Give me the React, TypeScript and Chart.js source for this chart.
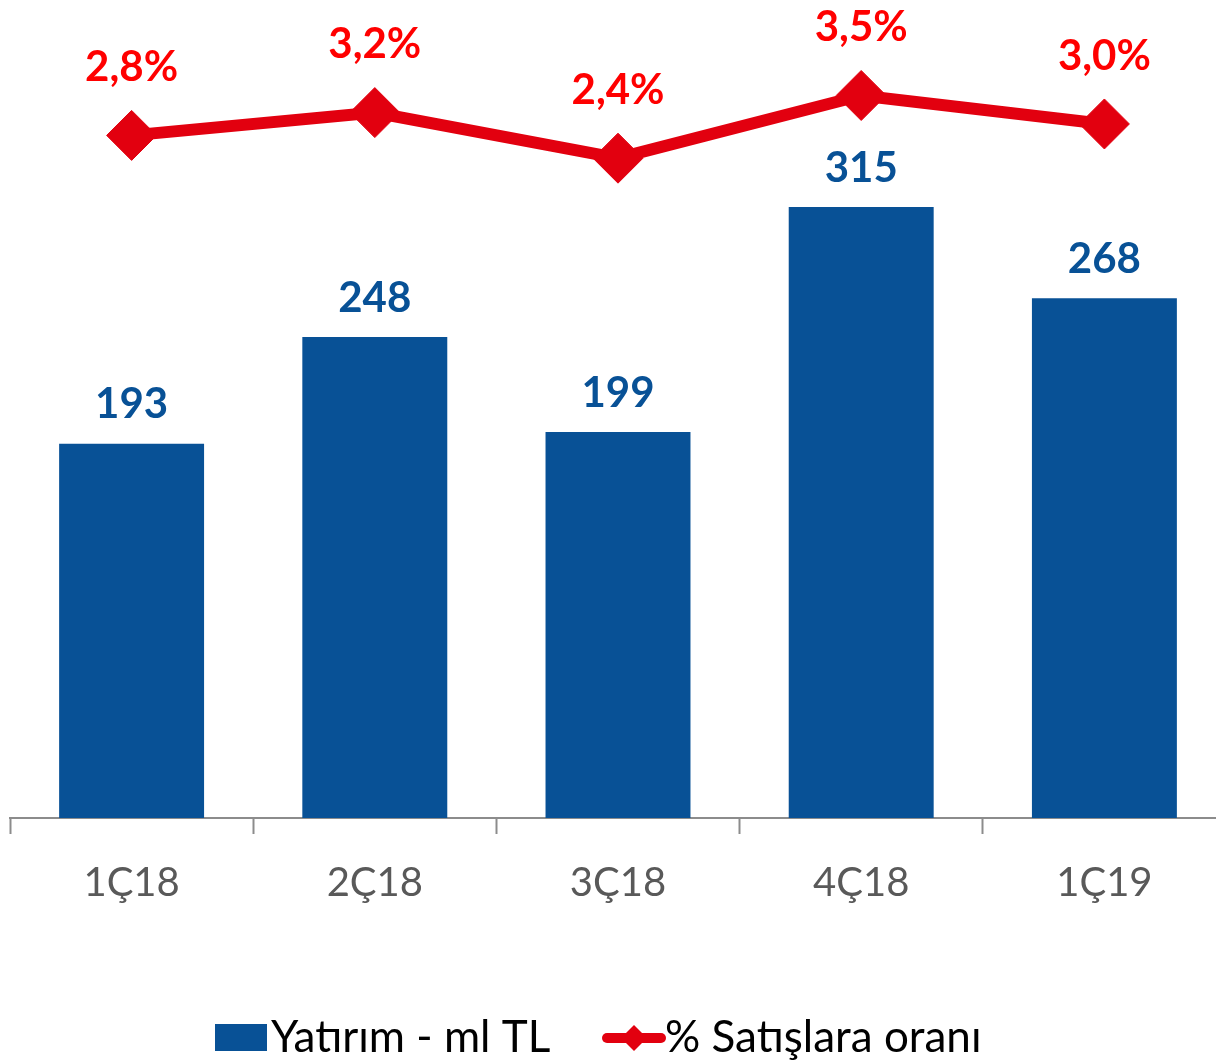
import React, { useEffect, useRef } from "react";
import { Chart, registerables } from "chart.js";

Chart.register(...registerables);

const categories = ["1Ç18", "2Ç18", "3Ç18", "4Ç18", "1Ç19"];
const investment = [193, 248, 199, 315, 268];
const salesRatio = [2.8, 3.2, 2.4, 3.5, 3.0];
const seriesNames = ["Yatırım - ml TL", "% Satışlara oranı"];

const BLUE = "#085196";
const RED = "#E2000F";
const LABEL_RED = "#FF0000";
const FONT = "Lato, 'Open Sans', sans-serif";

const labelsPlugin = {
  id: "customLabels",
  afterDatasetsDraw(chart: any) {
    const ctx = chart.ctx;
    ctx.save();
    ctx.textAlign = "center";
    ctx.textBaseline = "middle";
    ctx.font = `bold 42px ${FONT}`;
    const barMeta = chart.getDatasetMeta(1);
    barMeta.data.forEach((el: any, i: number) => {
      ctx.fillStyle = BLUE;
      ctx.fillText(String(investment[i]), el.x, el.y - 39);
    });
    const lineMeta = chart.getDatasetMeta(0);
    lineMeta.data.forEach((el: any, i: number) => {
      ctx.fillStyle = LABEL_RED;
      ctx.fillText(salesRatio[i].toFixed(1).replace(".", ",") + "%", el.x, el.y - 68);
    });

    // legend
    const ly = 1038;
    ctx.fillStyle = BLUE;
    ctx.fillRect(215, 1024, 52, 27);
    ctx.fillStyle = "#000000";
    ctx.textAlign = "left";
    ctx.font = `44px ${FONT}`;
    ctx.fillText(seriesNames[0], 271, ly);
    ctx.strokeStyle = RED;
    ctx.lineWidth = 10;
    ctx.lineCap = "round";
    ctx.beginPath();
    ctx.moveTo(607, ly);
    ctx.lineTo(661, ly);
    ctx.stroke();
    ctx.fillStyle = RED;
    ctx.beginPath();
    ctx.moveTo(634 - 13, ly);
    ctx.lineTo(634, ly - 13);
    ctx.lineTo(634 + 13, ly);
    ctx.lineTo(634, ly + 13);
    ctx.closePath();
    ctx.fill();
    ctx.fillStyle = "#000000";
    ctx.fillText(seriesNames[1], 665, ly);
    ctx.restore();
  },
};

export default function App() {
  const ref = useRef<HTMLCanvasElement>(null);
  useEffect(() => {
    if (!ref.current) return;
    const chart = new Chart(ref.current, {
      type: "bar",
      data: {
        labels: categories,
        datasets: [
          {
            type: "line",
            label: seriesNames[1],
            data: salesRatio,
            yAxisID: "y2",
            borderColor: RED,
            backgroundColor: RED,
            borderWidth: 12,
            pointStyle: "rectRot",
            pointRadius: 25,
            pointBorderWidth: 1,
            pointBackgroundColor: RED,
            pointBorderColor: RED,
            tension: 0,
            clip: false,
            order: 0,
          } as any,
          {
            type: "bar",
            label: seriesNames[0],
            data: investment,
            yAxisID: "y",
            backgroundColor: BLUE,
            barPercentage: 0.596,
            categoryPercentage: 1,
            order: 1,
          },
        ],
      },
      options: {
        animation: false,
        responsive: false,
        maintainAspectRatio: false,
        layout: { autoPadding: false, padding: { left: 10, right: 0, top: 0, bottom: 0 } },
        plugins: {
          legend: { display: false },
          tooltip: { enabled: false },
        },
        scales: {
          x: {
            offset: true,
            grid: {
              display: true,
              offset: true,
              drawOnChartArea: false,
              drawTicks: true,
              tickLength: 16,
              tickColor: "#8C8C8C",
              tickWidth: 2,
            },
            border: { display: true, color: "#8C8C8C", width: 2 },
            ticks: {
              color: "#595959",
              font: { family: FONT, size: 40 },
              padding: 25,
              maxRotation: 0,
            },
            afterFit(scale: any) {
              scale.height = 246;
              scale.paddingLeft = 0;
              scale.paddingRight = 0;
            },
          },
          y: {
            display: false,
            min: 0,
            max: 421.8,
          },
          y2: {
            display: false,
            min: -9.175,
            max: 5.175,
          },
        },
      },
      plugins: [labelsPlugin],
    });
    return () => chart.destroy();
  }, []);
  return (
    <div
      style={{
        position: "fixed",
        left: 0,
        top: 0,
        width: 1216,
        height: 1064,
        overflow: "hidden",
        background: "#ffffff",
      }}
    >
      <canvas ref={ref} width={1226} height={1064} style={{ width: 1226, height: 1064, display: "block" }} />
    </div>
  );
}
